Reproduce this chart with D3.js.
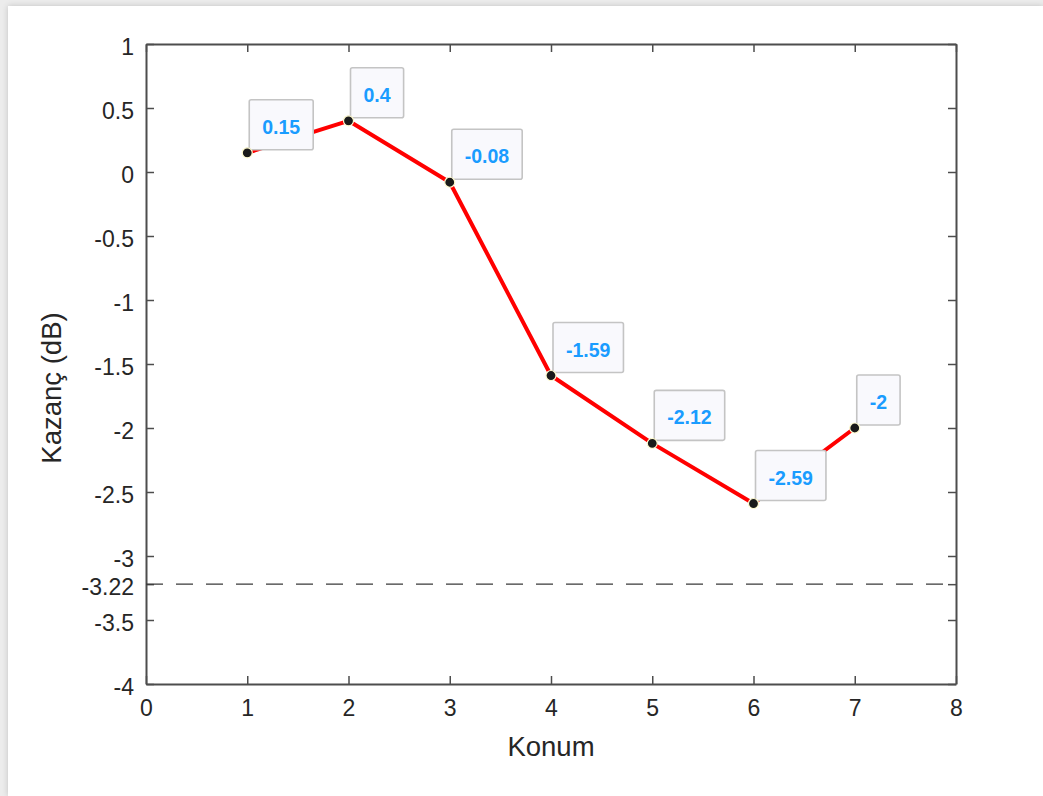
<!DOCTYPE html>
<html>
<head>
<meta charset="utf-8">
<script src="https://cdn.jsdelivr.net/npm/d3@7/dist/d3.min.js"></script>
<style>
  html, body { margin: 0; padding: 0; background: #ececec; width: 1043px; height: 796px; overflow: hidden; }
  #card { position: absolute; left: 8px; top: 6px; width: 1035px; height: 790px; background: #ffffff;
          box-shadow: 0 0 6px rgba(0,0,0,0.18); }
  svg { position: absolute; left: 0; top: 0; }
  text { font-family: "Liberation Sans", Arial, sans-serif; }
</style>
</head>
<body>
<div id="card"></div>
<svg id="chart" width="1043" height="796"></svg>
<script>
// ---- data ----
const positions = [1, 2, 3, 4, 5, 6, 7];
const gains = [0.15, 0.4, -0.08, -1.59, -2.12, -2.59, -2];
const tipLabels = ["0.15", "0.4", "-0.08", "-1.59", "-2.12", "-2.59", "-2"];
const xTicks = [0, 1, 2, 3, 4, 5, 6, 7, 8];
const xTickLabels = ["0", "1", "2", "3", "4", "5", "6", "7", "8"];
const yTicks = [1, 0.5, 0, -0.5, -1, -1.5, -2, -2.5, -3, -3.22, -3.5, -4];
const yTickLabels = ["1", "0.5", "0", "-0.5", "-1", "-1.5", "-2", "-2.5", "-3", "-3.22", "-3.5", "-4"];
const threshold = [-3.22];
const xTitle = "Konum";
const yTitle = "Kazanç (dB)";

// ---- layout ----
const L = 146, R = 956, T = 44, B = 684;
const svg = d3.select("#chart");
const x = d3.scaleLinear().domain([0, 8]).range([L, R]);
const y = d3.scaleLinear().domain([-4, 1]).range([B, T]);

const axisColor = "#4d4d4d";
const textColor = "#262626";

function styleAxis(g) {
  g.select(".domain").attr("stroke", axisColor).attr("stroke-width", 2);
  g.selectAll(".tick line").attr("stroke", axisColor).attr("stroke-width", 1.5);
  g.selectAll(".tick text").attr("fill", textColor).attr("font-size", 23)
    .attr("font-family", "'Liberation Sans', Arial, sans-serif");
}

// bottom axis
svg.append("g").attr("transform", `translate(0,${B})`)
  .call(d3.axisBottom(x).tickValues(xTicks).tickFormat((d, i) => xTickLabels[i])
    .tickSizeInner(-8).tickSizeOuter(0).tickPadding(16))
  .call(styleAxis);
// top axis (no labels)
svg.append("g").attr("transform", `translate(0,${T})`)
  .call(d3.axisTop(x).tickValues(xTicks).tickFormat("").tickSizeInner(-8).tickSizeOuter(0))
  .call(styleAxis);
// left axis
const yl = svg.append("g").attr("transform", `translate(${L},0)`)
  .call(d3.axisLeft(y).tickValues(yTicks).tickFormat((d, i) => yTickLabels[i])
    .tickSizeInner(-8).tickSizeOuter(0).tickPadding(12))
  .call(styleAxis);
yl.selectAll(".tick text").attr("dy", "0.45em");
// right axis (no labels)
svg.append("g").attr("transform", `translate(${R},0)`)
  .call(d3.axisRight(y).tickValues(yTicks).tickFormat("").tickSizeInner(-8).tickSizeOuter(0))
  .call(styleAxis);

// axis titles
svg.append("text").attr("x", (L + R) / 2).attr("y", 756).attr("text-anchor", "middle")
  .attr("font-size", 27.5).attr("fill", textColor).text(xTitle);
svg.append("text").attr("transform", `translate(61,388) rotate(-90)`).attr("text-anchor", "middle")
  .attr("font-size", 27.5).attr("fill", textColor).text(yTitle);

// threshold dashed line
svg.selectAll(".thr").data(threshold).enter().append("line")
  .attr("x1", L).attr("x2", R).attr("y1", d => y(d)).attr("y2", d => y(d))
  .attr("stroke", "#3a3a3a").attr("stroke-width", 1.3).attr("stroke-dasharray", "17,13");

// series
const pts = positions.map((p, i) => ({ x: p, y: gains[i], label: tipLabels[i] }));
svg.append("path").datum(pts)
  .attr("d", d3.line().x(d => x(d.x)).y(d => y(d.y)))
  .attr("fill", "none").attr("stroke", "#ff0000").attr("stroke-width", 4)
  .attr("stroke-linejoin", "round");

// data tips
const tips = svg.selectAll(".tip").data(pts).enter().append("g").attr("class", "tip");
tips.each(function (d) {
  const g = d3.select(this);
  const rect = g.append("rect");
  const t = g.append("text").attr("font-size", 19.5).attr("font-weight", "bold")
    .attr("fill", "#1a9cff").text(d.label);
  const w = t.node().getComputedTextLength() + 26;
  const h = 50;
  const bx = x(d.x) + 2, by = y(d.y) - 3 - h;
  rect.attr("x", bx).attr("y", by).attr("width", w).attr("height", h).attr("rx", 2)
    .attr("fill", "#f9f9fd").attr("stroke", "#c4c4c4").attr("stroke-width", 1.6);
  t.attr("x", bx + 13).attr("y", by + 34);
});

// markers
svg.selectAll(".mk").data(pts).enter().append("circle")
  .attr("cx", d => x(d.x)).attr("cy", d => y(d.y)).attr("r", 5)
  .attr("fill", "#1a1a1a").attr("stroke", "#fffbd0").attr("stroke-width", 1.2);
</script>
</body>
</html>
